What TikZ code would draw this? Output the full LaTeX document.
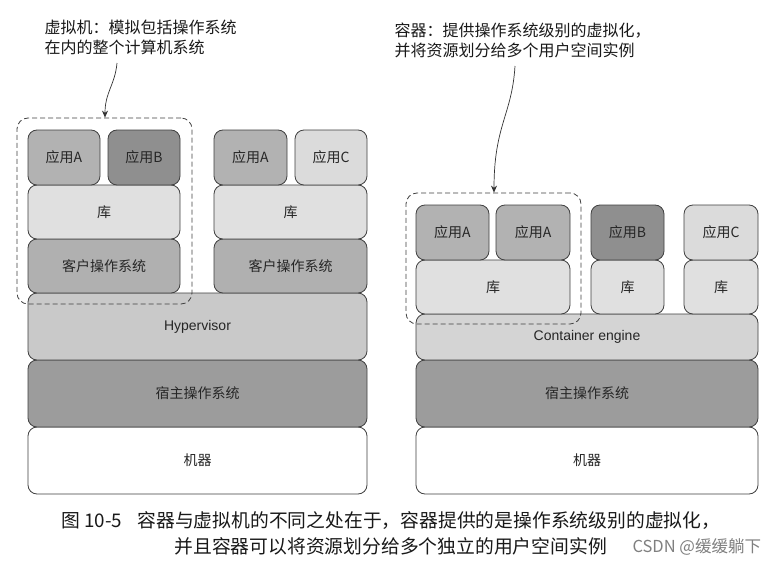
\documentclass[tikz,border=0pt]{standalone}
\usepackage{fontspec}
\setmainfont{Noto Sans CJK SC}
\newfontfamily\latinsans{Liberation Sans}
\usetikzlibrary{arrows.meta}
\definecolor{edge}{gray}{0.25}
\definecolor{txt}{gray}{0.15}
\definecolor{appa}{gray}{0.70}
\definecolor{appb}{gray}{0.56}
\definecolor{appc}{gray}{0.86}
\definecolor{libc}{gray}{0.88}
\definecolor{gosc}{gray}{0.69}
\definecolor{hypc}{gray}{0.79}
\definecolor{cengc}{gray}{0.83}
\definecolor{hosc}{gray}{0.61}
\tikzset{
  box/.style={draw=edge, line width=0.8pt, rounded corners=9pt, inner sep=0pt,
    text=txt, font=\fontsize{14}{16}\selectfont},
  dashbox/.style={draw=edge, line width=0.8pt, dash pattern=on 5pt off 3pt, rounded corners=11pt},
  note/.style={anchor=west, align=left, text=black!90, font=\fontsize{16}{20}\selectfont},
  pointer/.style={draw=black!80, line width=0.7pt, -{Stealth[length=7pt,width=6pt]}},
  captxt/.style={anchor=west, text=black!90, font=\fontsize{18.8}{22}\selectfont},
}
\begin{document}
\begin{tikzpicture}[x=1pt,y=-1pt]
\useasboundingbox[fill=white] (0,0) rectangle (782,570);

% ---------------- Left: virtual machines ----------------
\node[box, fill=white, minimum width=339pt, minimum height=67pt] (mach1) at (197.5,460.5) {机器};
\node[box, fill=hosc, minimum width=339pt, minimum height=67pt] (hos1) at (197.5,393.5) {宿主操作系统};
\node[box, fill=hypc, minimum width=339pt, minimum height=67pt] (hyp) at (197.5,326.5) {\latinsans Hypervisor};

\node[box, fill=gosc, minimum width=152pt, minimum height=54pt] (gos1) at (104,266) {客户操作系统};
\node[box, fill=libc, minimum width=152pt, minimum height=54pt] (lib1) at (104,212) {库};
\node[box, fill=appa, minimum width=72pt, minimum height=55pt] (va1) at (64,157.5) {应用A};
\node[box, fill=appb, minimum width=72pt, minimum height=55pt] (vb1) at (144,157.5) {应用B};

\node[box, fill=gosc, minimum width=153pt, minimum height=54pt] (gos2) at (290.5,266) {客户操作系统};
\node[box, fill=libc, minimum width=153pt, minimum height=54pt] (lib2) at (290.5,212) {库};
\node[box, fill=appa, minimum width=73pt, minimum height=55pt] (va2) at (250.5,157.5) {应用A};
\node[box, fill=appc, minimum width=72pt, minimum height=55pt] (vc2) at (331,157.5) {应用C};

\node[dashbox, minimum width=175pt, minimum height=186pt, inner sep=0pt] (vmframe) at (104.5,211) {};

\node[note] (vmnote) at (41,37) {虚拟机：模拟包括操作系统\\在内的整个计算机系统};
\coordinate (vmstart) at (117,63);
\draw[pointer] (vmstart) .. controls (115,85) and (105,92) .. (vmframe.north -| 105,0);

% ---------------- Right: containers ----------------
\node[box, fill=white, minimum width=342pt, minimum height=67pt] (mach2) at (587,460.5) {机器};
\node[box, fill=hosc, minimum width=342pt, minimum height=67pt] (hos2) at (587,393.5) {宿主操作系统};
\node[box, fill=cengc, minimum width=342pt, minimum height=46pt] (ceng) at (587,337) {\latinsans Container engine};

\node[box, fill=libc, minimum width=154pt, minimum height=54pt] (clib1) at (493,287) {库};
\node[box, fill=libc, minimum width=73pt, minimum height=54pt] (clib2) at (627.5,287) {库};
\node[box, fill=libc, minimum width=74pt, minimum height=54pt] (clib3) at (721,287) {库};

\node[box, fill=appa, minimum width=73pt, minimum height=55pt] (ca1) at (452.5,232.5) {应用A};
\node[box, fill=appa, minimum width=74pt, minimum height=55pt] (ca2) at (533,232.5) {应用A};
\node[box, fill=appb, minimum width=73pt, minimum height=55pt] (cb) at (627.5,232.5) {应用B};
\node[box, fill=appc, minimum width=74pt, minimum height=55pt] (cc) at (721,232.5) {应用C};

\node[dashbox, minimum width=175pt, minimum height=131pt, inner sep=0pt] (ctframe) at (493.5,258.5) {};

\node[note] (ctnote) at (391,40) {容器：提供操作系统级别的虚拟化，\\并将资源划分给多个用户空间实例};
\coordinate (ctstart) at (515,66);
\draw[pointer] (ctstart) .. controls (512,115) and (494,125) .. (ctframe.north -| 494,0);

% ---------------- Caption ----------------
\node[captxt] (cap1) at (58,521) {图 10-5\hspace{0.8em}容器与虚拟机的不同之处在于，容器提供的是操作系统级别的虚拟化，};
\node[captxt] (cap2) at (171,546) {并且容器可以将资源划分给多个独立的用户空间实例};
\node[anchor=west, text=black!50, font=\fontsize{16.5}{20}\selectfont] (wm) at (629,547) {CSDN @缓缓躺下};
\end{tikzpicture}
\end{document}
